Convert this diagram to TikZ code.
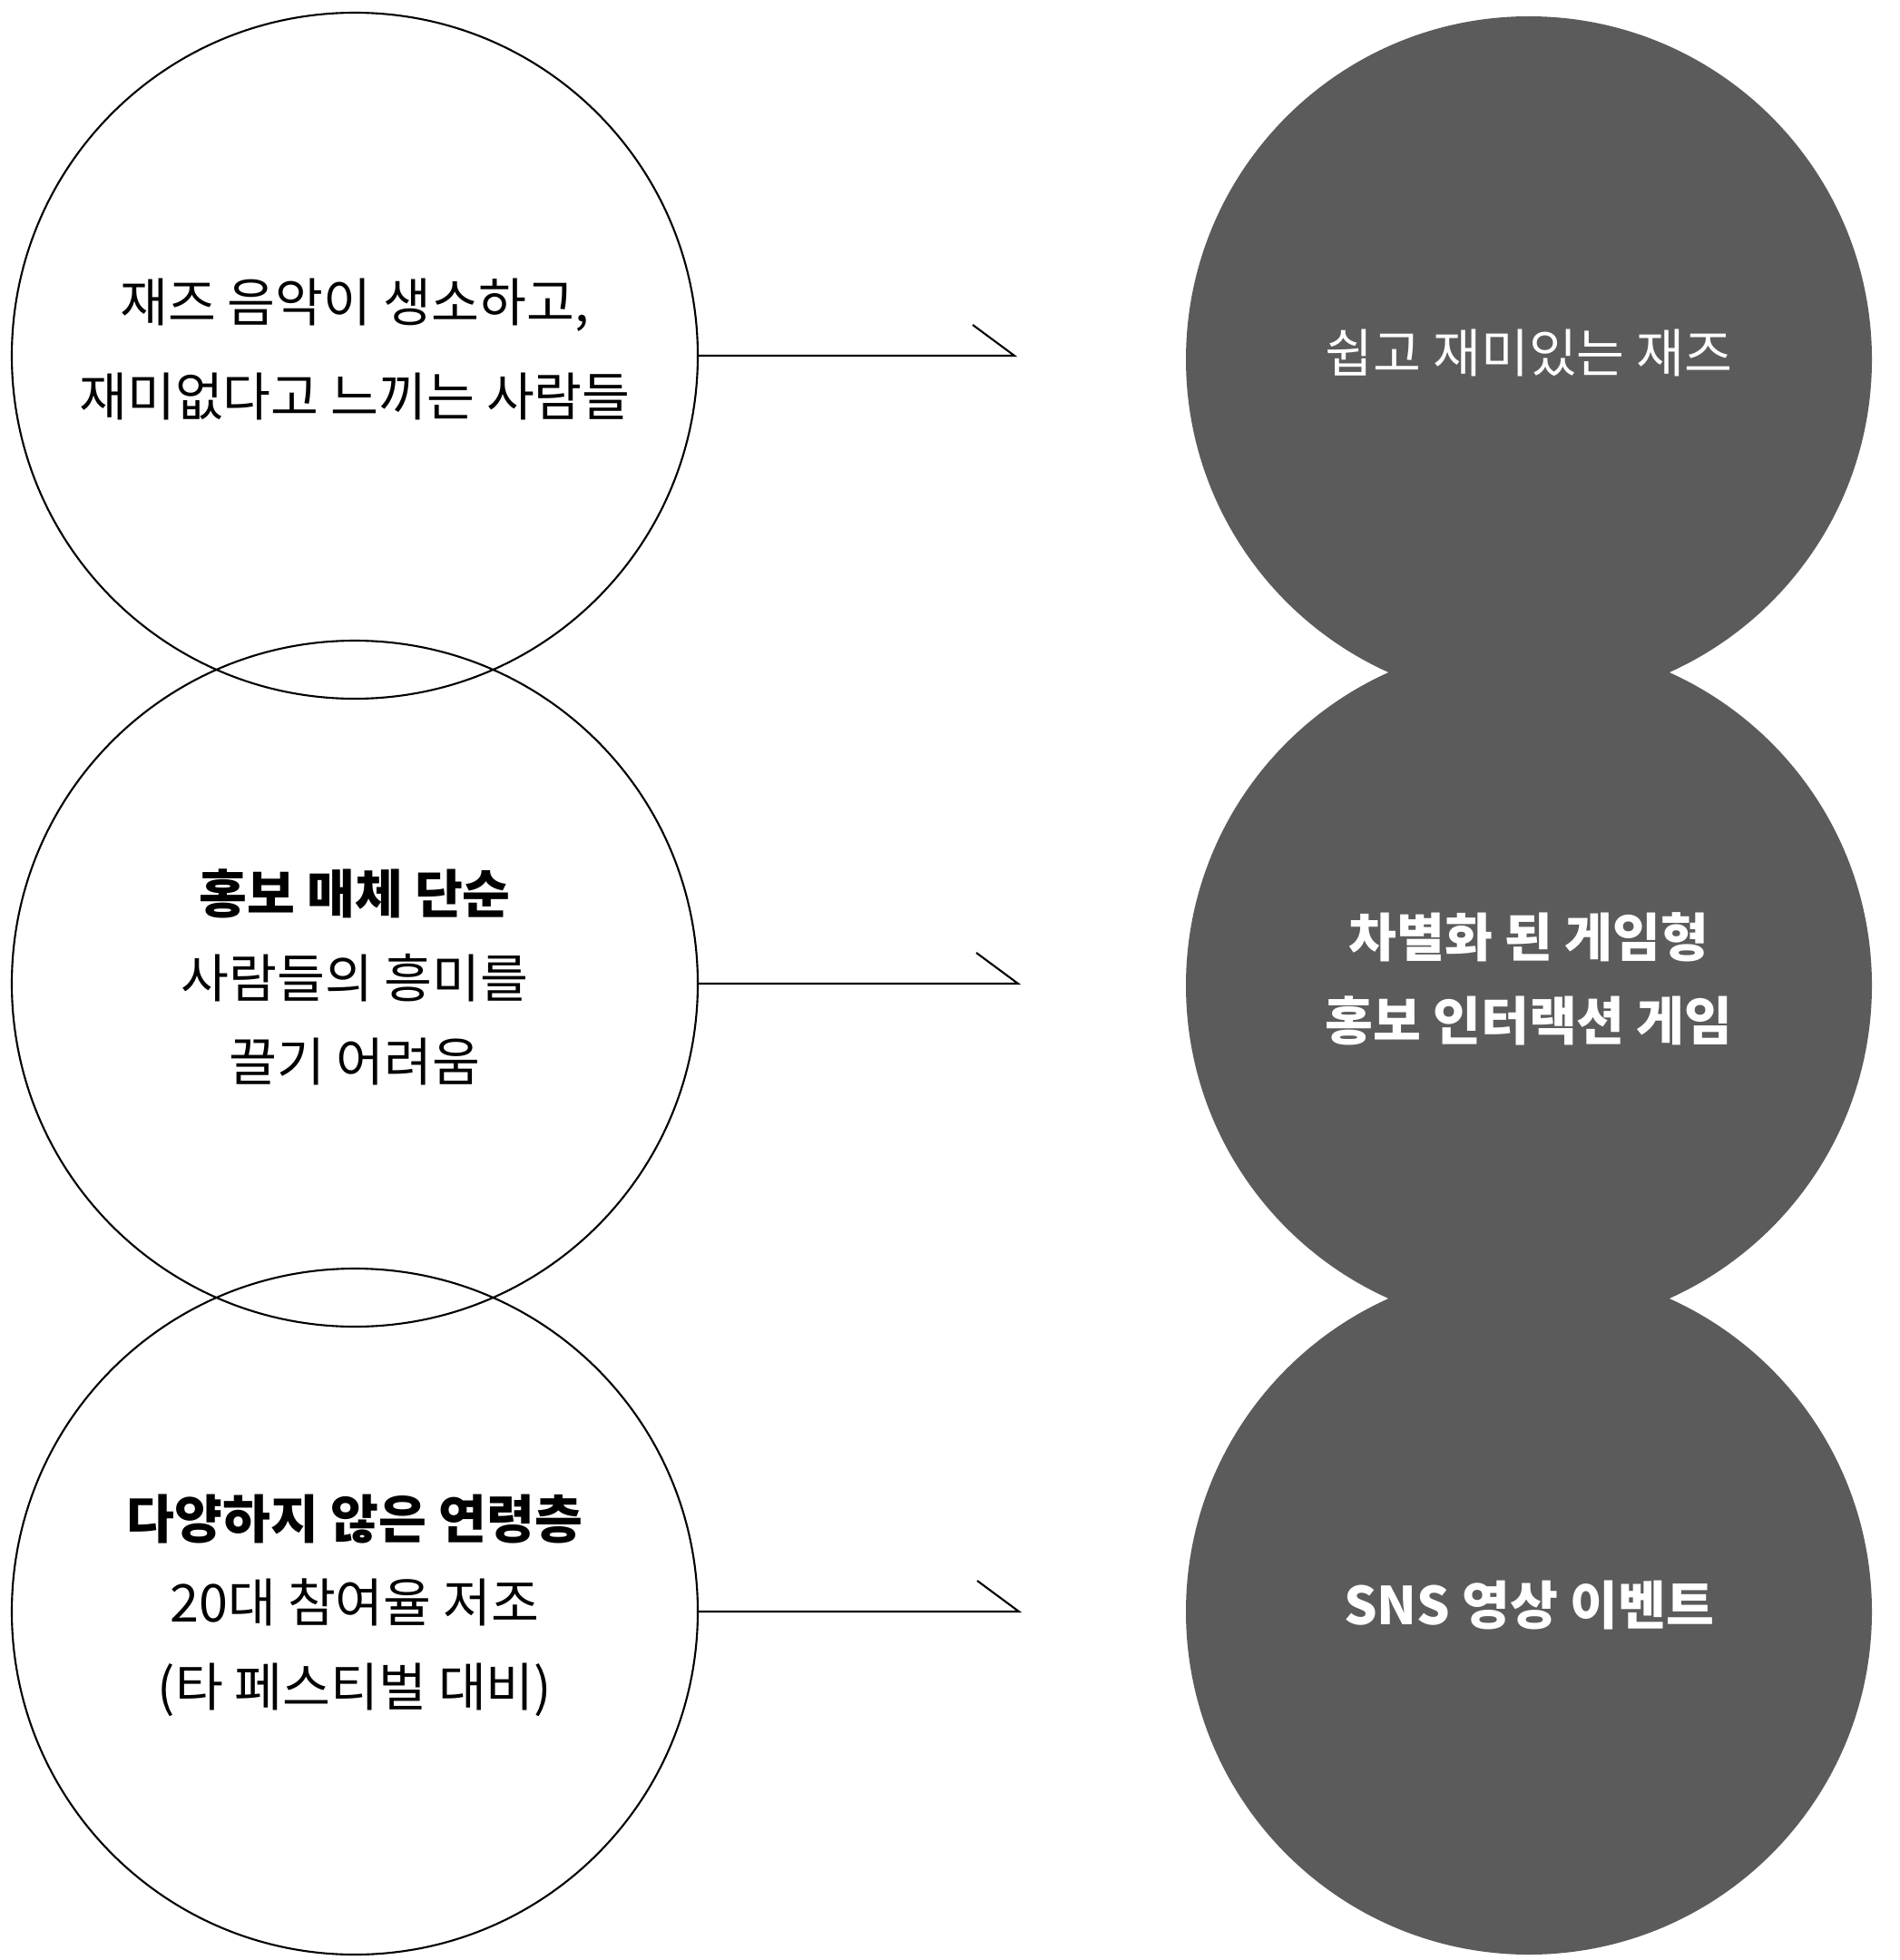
\documentclass[tikz,border=0pt]{standalone}
\usepackage{fontspec}
\setmainfont{Noto Sans CJK KR}
\usetikzlibrary{arrows, calc}
\definecolor{darkfill}{RGB}{91,91,91}

\begin{document}
\begin{tikzpicture}[line width=0.6pt,
		words/.style={align=center, yshift=0.07cm, font=\fontsize{16.35}{26.3}\selectfont},
		problem/.style={draw, circle, minimum size=7.56cm, inner sep=0pt},
		answer/.style={circle, fill=darkfill, minimum size=7.56cm, inner sep=0pt}]
		\useasboundingbox (0,0) rectangle (20.94,-21.60);
		\node[problem, label={[words, font=\fontsize{16.35}{29.4}\selectfont]center:{재즈 음악이 생소하고,\\재미없다고 느끼는 사람들}}] (gap1) at (3.91,-3.92) {};
		\node[problem, label={[words]center:{\textbf{홍보 매체 단순}\\사람들의 흥미를\\끌기 어려움}}] (gap2) at (3.91,-10.84) {};
		\node[problem, label={[words]center:{\textbf{다양하지 않은 연령층}\\20대 참여율 저조\\(타 페스티벌 대비)}}] (gap3) at (3.91,-17.76) {};
		\node[answer, label={[words, text=white]center:{쉽고 재미있는 재즈}}] (fix1) at (16.85,-3.96) {};
		\node[answer, label={[words, text=white]center:{\textbf{차별화 된 게임형}\\\textbf{홍보 인터랙션 게임}}}] (fix2) at (16.85,-10.86) {};
		\node[answer, label={[words, text=white]center:{\textbf{SNS 영상 이벤트}}}] (fix3) at (16.85,-17.76) {};
		\coordinate (tip1) at (11.18,-3.92);
		\coordinate (tip2) at (11.22,-10.84);
		\coordinate (tip3) at (11.23,-17.76);
		\draw (gap1.east) -- (tip1) -- ++(-0.46,0.34);
		\draw (gap2.east) -- (tip2) -- ++(-0.46,0.34);
		\draw (gap3.east) -- (tip3) -- ++(-0.46,0.34);
	\end{tikzpicture}
\end{document}
